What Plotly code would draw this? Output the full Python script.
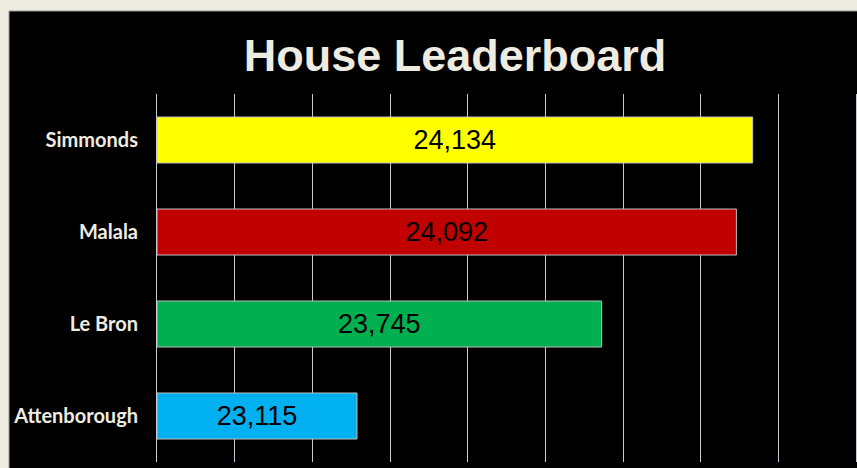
import plotly.graph_objects as go

# ---- data ----
houses = ["Simmonds", "Malala", "Le Bron", "Attenborough"]
points = [24134, 24092, 23745, 23115]
bar_colors = ["#FFFF00", "#C00000", "#00B050", "#00B0F0"]
x_range = [22600, 24400]
x_step = 200

# ---- layout geometry (pixels) ----
W, H = 857, 468
L, R, T, B = 157, 856, 94, 462
pw, ph = R - L, B - T

def px_x(p):
    return (p - L) / pw

def px_y(p):
    return (B - p) / ph

cream = "#EEECE1"
grid = "#C8C8D0"

fig = go.Figure(
    go.Bar(
        y=houses,
        x=[v - x_range[0] for v in points],
        base=x_range[0],
        orientation="h",
        marker=dict(color=bar_colors, line=dict(color="#BFBFBF", width=1)),
        text=[f"{v:,}" for v in points],
        textposition="inside",
        insidetextanchor="middle",
        textfont=dict(family="Liberation Sans, Arial", size=27, color="#000000"),
        hoverinfo="skip",
    )
)

fig.update_layout(
    width=W,
    height=H,
    margin=dict(l=L, r=W - R, t=T, b=H - B),
    paper_bgcolor=cream,
    plot_bgcolor="#000000",
    bargap=0.5,
    showlegend=False,
    title=dict(
        text="<b>House Leaderboard</b>",
        x=455 / W,
        xanchor="center",
        y=1 - 55 / H,
        yanchor="middle",
        font=dict(family="Liberation Sans, Arial", size=45, color=cream),
    ),
    xaxis=dict(
        range=x_range,
        dtick=x_step,
        tick0=x_range[0],
        showticklabels=False,
        showgrid=True,
        gridcolor=grid,
        gridwidth=1,
        zeroline=False,
        showline=False,
    ),
    yaxis=dict(
        categoryorder="array",
        categoryarray=houses,
        autorange="reversed",
        showgrid=False,
        zeroline=False,
        showline=True,
        linecolor=grid,
        linewidth=1,
        mirror=True,
        ticks="outside",
        ticklen=14,
        tickcolor="rgba(0,0,0,0)",
        tickfont=dict(family="Lato, Open Sans", size=20, color=cream),
    ),
    shapes=[
        dict(
            type="rect",
            xref="paper",
            yref="paper",
            x0=px_x(9),
            x1=px_x(W + 5),
            y0=px_y(H + 5),
            y1=px_y(11),
            fillcolor="#000000",
            line=dict(color="#9A9A94", width=1),
            layer="below",
        )
    ],
)

# bold category labels
fig.update_yaxes(
    tickvals=houses,
    ticktext=[f"<b>{h}</b>" for h in houses],
)

fig.write_html(
    "out.html",
    config={"displayModeBar": False},
    post_script="document.body.style.margin='0';document.body.style.overflow='hidden';document.body.style.background='#EEECE1';",
)
